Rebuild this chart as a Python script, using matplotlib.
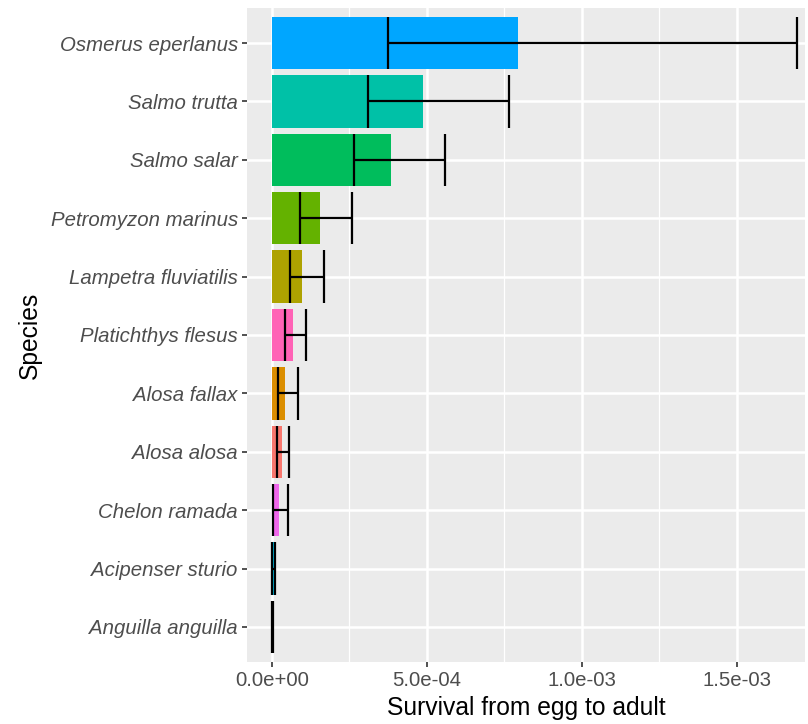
import matplotlib.pyplot as plt
import numpy as np

plt.rcParams['font.family'] = ['Liberation Sans', 'DejaVu Sans']

# species ordered bottom -> top
species = ["Anguilla anguilla", "Acipenser sturio", "Chelon ramada", "Alosa alosa",
           "Alosa fallax", "Platichthys flesus", "Lampetra fluviatilis",
           "Petromyzon marinus", "Salmo salar", "Salmo trutta", "Osmerus eperlanus"]
survival = [2e-6, 6e-6, 2.2e-5, 3.3e-5, 4.2e-5, 6.8e-5, 9.6e-5,
            1.54e-4, 3.83e-4, 4.87e-4, 7.94e-4]
lower = [0.5e-6, 1e-6, 4e-6, 1.8e-5, 2.0e-5, 4.2e-5, 5.8e-5,
         9.0e-5, 2.64e-4, 3.10e-4, 3.74e-4]
upper = [5e-6, 1.0e-5, 5.2e-5, 5.6e-5, 8.3e-5, 1.09e-4, 1.70e-4,
         2.60e-4, 5.59e-4, 7.65e-4, 1.693e-3]
colors = ["#B385FF", "#00BADE", "#EF67EB", "#F8766D", "#DB8E00", "#FF63B6",
          "#AEA200", "#64B200", "#00BD5C", "#00C1A7", "#00A6FF"]

fig = plt.figure(figsize=(8.08, 7.24), dpi=100)
ax = fig.add_axes([0.3057, 0.0856, 0.6905, 0.9034])
ax.set_facecolor("#EBEBEB")

y = np.arange(len(species))
w = 0.9

# grid
for xm in [2.5e-4, 7.5e-4, 1.25e-3]:
    ax.axvline(xm, color="white", lw=0.9, zorder=0)
for xM in [0, 5e-4, 1e-3, 1.5e-3]:
    ax.axvline(xM, color="white", lw=1.8, zorder=0)
for yy in y:
    ax.axhline(yy, color="white", lw=1.8, zorder=0)

ax.barh(y, survival, height=w, color=colors, zorder=2)
ax.hlines(y, lower, upper, color="black", lw=1.6, zorder=3)
ax.vlines(lower, y - w / 2, y + w / 2, color="black", lw=1.6, zorder=3)
ax.vlines(upper, y - w / 2, y + w / 2, color="black", lw=1.6, zorder=3)

ax.set_xlim(-8.0e-5, 1.72e-3)
ax.set_ylim(-0.6, len(species) - 0.4)
ax.set_xticks([0, 5e-4, 1e-3, 1.5e-3])
ax.set_xticklabels(["0.0e+00", "5.0e-04", "1.0e-03", "1.5e-03"])
ax.set_yticks(y)
ax.set_yticklabels(species, style="italic")

for s in ax.spines.values():
    s.set_visible(False)
ax.tick_params(axis="both", colors="#333333", length=3.6, width=1.2,
               labelsize=14.7, labelcolor="#4D4D4D", pad=3)

ax.set_xlabel("Survival from egg to adult", fontsize=17.7, color="black", labelpad=4)
ax.set_ylabel("Species", fontsize=17.7, color="black", labelpad=6)

fig.savefig("out.png", dpi=100)
